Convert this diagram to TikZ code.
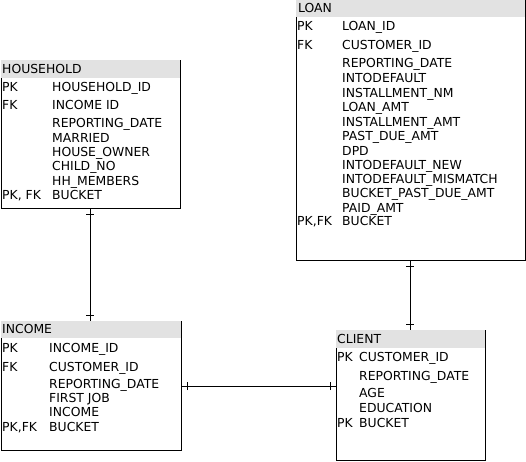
\documentclass[tikz,border=0pt]{standalone}
\usepackage{fontspec}
\setmainfont{DejaVu Sans}
\usetikzlibrary{calc,decorations.markings}
\definecolor{hdr}{RGB}{226,226,226}
\tikzset{
  tbl/.style={draw=none,inner sep=0pt,anchor=north west},
  txt/.style={inner sep=0pt,anchor=base west,font=\fontsize{12.4}{14}\selectfont,text=black},
  border/.style={draw=black,line width=1pt},
  rel/.style={draw=black,line width=1pt,postaction={decorate},
    decoration={markings,
      mark=at position 6pt with {\draw[line width=1pt] (0,-4pt)--(0,4pt);},
      mark=at position -6pt with {\draw[line width=1pt] (0,-4pt)--(0,4pt);}}}
}
\newcommand{\tbox}[6]{% name, x0, x1, ytop, yhead, ybot
  \node[tbl,minimum width={(#3-#2)*1pt},minimum height={(#6-#4)*1pt}] (#1) at (#2,-#4) {};
  \fill[hdr] (#1.north west) rectangle ($(#1.north east)+(0,-#5+#4)$);
  \draw[border] (#1.north east) -- (#1.south east) -- (#1.south west) -- ($(#1.north west)+(0,-#5+#4)$);
}
\begin{document}
\begin{tikzpicture}[x=1pt,y=1pt]
\useasboundingbox (0,0) rectangle (526,-461);
% tables
\tbox{household}{1}{180}{60}{78}{208}
\tbox{loan}{296}{525}{0}{17}{260}
\tbox{income}{1}{181}{321}{338}{450}
\tbox{client}{336}{485}{330}{348}{460}

% HOUSEHOLD
\node[txt] (hhh) at (2,-73.3) {HOUSEHOLD};
\node[txt] (hk1) at (2,-91.3) {PK};
\node[txt] (hc1) at (52,-91.3) {HOUSEHOLD\_ID};
\node[txt] (hk2) at (2,-109.3) {FK};
\node[txt] (hc2) at (52,-109.3) {INCOME ID};
\node[txt] (hc3) at (52,-127.3) {REPORTING\_DATE};
\node[txt] (hc4) at (52,-142.3) {MARRIED};
\node[txt] (hc5) at (52,-156.3) {HOUSE\_OWNER};
\node[txt] (hc6) at (52,-170.3) {CHILD\_NO};
\node[txt] (hc7) at (52,-185.3) {HH\_MEMBERS};
\node[txt] (hk8) at (2,-199.3) {PK, FK};
\node[txt] (hc8) at (52,-199.3) {BUCKET};

% LOAN
\node[txt] (lh) at (298,-12.3) {LOAN};
\node[txt] (lk1) at (297,-30.3) {PK};
\node[txt] (lc1) at (342,-30.3) {LOAN\_ID};
\node[txt] (lk2) at (297,-49.3) {FK};
\node[txt] (lc2) at (342,-49.3) {CUSTOMER\_ID};
\node[txt] (lc3) at (342,-67.3) {REPORTING\_DATE};
\node[txt] (lc4) at (342,-82.3) {INTODEFAULT};
\node[txt] (lc5) at (342,-97.3) {INSTALLMENT\_NM};
\node[txt] (lc6) at (342,-111.3) {LOAN\_AMT};
\node[txt] (lc7) at (342,-126.3) {INSTALLMENT\_AMT};
\node[txt] (lc8) at (342,-140.3) {PAST\_DUE\_AMT};
\node[txt] (lc9) at (342,-155.3) {DPD};
\node[txt] (lc10) at (342,-169.3) {INTODEFAULT\_NEW};
\node[txt] (lc11) at (342,-183.3) {INTODEFAULT\_MISMATCH};
\node[txt] (lc12) at (342,-197.3) {BUCKET\_PAST\_DUE\_AMT};
\node[txt] (lc13) at (342,-212.3) {PAID\_AMT};
\node[txt] (lk14) at (297,-225.3) {PK,FK};
\node[txt] (lc14) at (342,-225.3) {BUCKET};

% INCOME
\node[txt] (ih) at (2,-333.3) {INCOME};
\node[txt] (ik1) at (2,-352.3) {PK};
\node[txt] (ic1) at (49,-352.3) {INCOME\_ID};
\node[txt] (ik2) at (2,-371.3) {FK};
\node[txt] (ic2) at (49,-371.3) {CUSTOMER\_ID};
\node[txt] (ic3) at (49,-388.3) {REPORTING\_DATE};
\node[txt] (ic4) at (49,-402.3) {FIRST JOB};
\node[txt] (ic5) at (49,-416.3) {INCOME};
\node[txt] (ik6) at (2,-431.3) {PK,FK};
\node[txt] (ic6) at (49,-431.3) {BUCKET};

% CLIENT
\node[txt] (ch) at (337,-343.3) {CLIENT};
\node[txt] (ck1) at (337,-361.3) {PK};
\node[txt] (cc1) at (359,-361.3) {CUSTOMER\_ID};
\node[txt] (cc2) at (359,-380.3) {REPORTING\_DATE};
\node[txt] (cc3) at (359,-397.3) {AGE};
\node[txt] (cc4) at (359,-412.3) {EDUCATION};
\node[txt] (ck5) at (337,-427.3) {PK};
\node[txt] (cc5) at (359,-427.3) {BUCKET};

% relations
\draw[rel] (household.south west -| 90,0) -- (income.north west -| 90,0);
\draw[rel] (loan.south west -| 410,0) -- (client.north west -| 410,0);
\draw[rel] (income.north east |- 0,-386) -- (client.north west |- 0,-386);
\end{tikzpicture}
\end{document}
